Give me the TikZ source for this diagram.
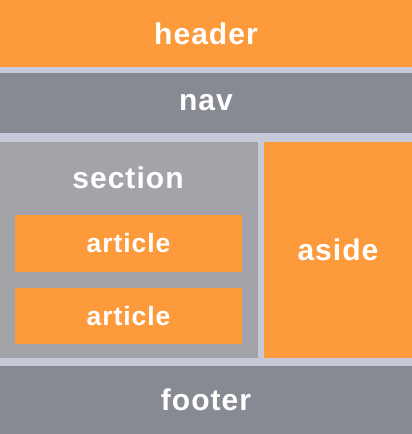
\documentclass[tikz,border=0pt]{standalone}
\usepackage{fontspec}
\setmainfont[LetterSpace=3.5]{Liberation Sans}
\definecolor{boxorange}{HTML}{FD9A3B}
\definecolor{boxdark}{HTML}{878A93}
\definecolor{boxmid}{HTML}{A3A4AA}
\definecolor{gapgray}{HTML}{C6C9D8}

\begin{document}
\begin{tikzpicture}[x=1pt, y=-1pt]
\tikzstyle{every node} = [inner sep=0, outer sep=0, text=white, font=\bfseries\fontsize{30}{32}\selectfont]
\tikzstyle{orangebox} = [fill=boxorange, rectangle]
\tikzstyle{darkbox} = [fill=boxdark, rectangle]
\tikzstyle{midbox} = [fill=boxmid, rectangle]
\tikzstyle{small} = [font=\bfseries\fontsize{26.5}{28}\selectfont]
% page background shows through as the gaps
\fill[gapgray] (0,0) rectangle (412,434);
\useasboundingbox (0,0) rectangle (412,434);
\node[orangebox, minimum width=412, minimum height=67] (header) at (206,33.5) {header};
\node[darkbox, minimum width=412, minimum height=60] (nav) at (206,103) {nav};
\node[midbox, minimum width=258, minimum height=216] (section) at (129,250) {};
\node[] (sectiontitle) at (128,178) {section};
\node[orangebox, minimum width=227, minimum height=57, small] (article1) at (128.5,243.5) {article};
\node[orangebox, minimum width=227, minimum height=56, small] (article2) at (128.5,316) {article};
\node[orangebox, minimum width=148, minimum height=216] (aside) at (338,250) {aside};
\node[darkbox, minimum width=412, minimum height=68] (footer) at (206,400) {footer};
\end{tikzpicture}
\end{document}
